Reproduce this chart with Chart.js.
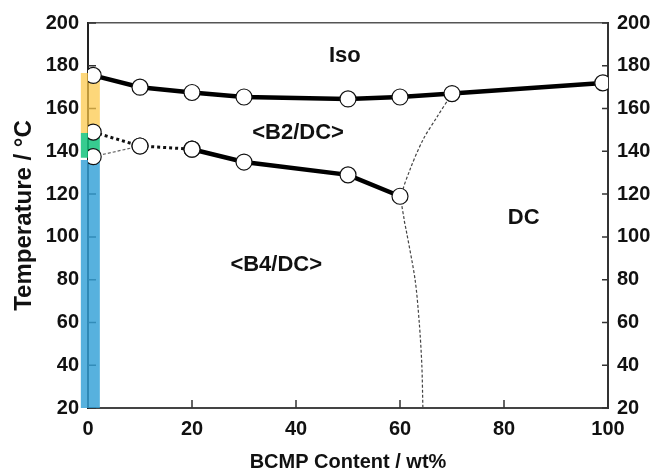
<!DOCTYPE html>
<html>
<head>
<meta charset="utf-8">
<script src="https://cdn.jsdelivr.net/npm/chart.js@4"></script>
<style>
  html, body { margin: 0; padding: 0; background: #fff; }
  #wrap { width: 654px; height: 472px; }
</style>
</head>
<body>
<div id="wrap"><canvas id="phaseChart"></canvas></div>
<script>
// Iso -> <B2/DC> boundary
const upperX = [1, 10, 20, 30, 50, 60, 70, 99];
const upperY = [175.5, 170, 167.5, 165.4, 164.5, 165.4, 167, 172];

// <B2/DC> -> <B4/DC> boundary (solid part)
const lowerX = [20, 30, 50, 60];
const lowerY = [141, 135, 129, 119];

// dotted part of the lower boundary
const dottedX = [1, 10, 20];
const dottedY = [149, 142.5, 141];

// thin dashed branch
const thinX = [1, 10];
const thinY = [137.5, 142.5];

// DC boundary (thin dashed curve)
const curveX = [70, 67.1, 64.4, 61.9, 60.3, 60.8, 61.2, 62.9, 63.7, 64.2, 64.4];
const curveY = [167, 156, 145.3, 131.3, 119, 108, 103, 80, 60, 40, 20];

// coloured bars at 0 wt%
const bandX = 0.45;
const bandBottom = [20, 137, 148.6];
const bandTop = [136, 148.6, 176.6];

// region labels
const regionText = ["Iso", "<B2/DC>", "<B4/DC>", "DC"];
const regionX = [49.4, 40.4, 36.2, 83.8];
const regionY = [184.6, 148.6, 86.9, 108.8];

const xTicks = [0, 20, 40, 60, 80, 100];
const yTicks = [20, 40, 60, 80, 100, 120, 140, 160, 180, 200];

const FONT = "'Liberation Sans', Arial, sans-serif";
const bandColors = ["rgba(50,160,215,0.82)", "rgba(20,195,125,0.85)", "rgba(252,200,70,0.72)"];

function pts(xs, ys) {
    return xs.map((x, i) => ({ x: x, y: ys[i] }));
}

const circle = {
    pointRadius: 8,
    pointHoverRadius: 8,
    pointBackgroundColor: "#fff",
    pointBorderColor: "#111",
    pointBorderWidth: 1.2
};

const datasets = [
    Object.assign({ data: pts(upperX, upperY), borderColor: "#000", borderWidth: 4.5 }, circle),
    Object.assign({ data: pts(lowerX, lowerY), borderColor: "#000", borderWidth: 4.5 }, circle),
    Object.assign({ data: pts(dottedX, dottedY), borderColor: "#111", borderWidth: 3, borderDash: [3, 3] }, circle),
    Object.assign({ data: pts(thinX, thinY), borderColor: "#666", borderWidth: 1.2, borderDash: [3, 2] }, circle),
    {
        data: pts(curveX, curveY),
        borderColor: "#444",
        borderWidth: 1.2,
        borderDash: [3, 2],
        tension: 0.3,
        pointRadius: 0
    }
];

// bands drawn first (last in list)
for (let i = bandBottom.length - 1; i >= 0; i--) {
    datasets.push({
        data: [{ x: bandX, y: bandBottom[i] }, { x: bandX, y: bandTop[i] }],
        borderColor: bandColors[i],
        borderWidth: 19,
        borderCapStyle: "butt",
        pointRadius: 0,
        clip: false
    });
}

// inward tick marks + region labels
const decorPlugin = {
    id: "decor",
    beforeDatasetsDraw(chart) {
        const ctx = chart.ctx;
        const sx = chart.scales.x, sy = chart.scales.y, sy2 = chart.scales.y2;
        const area = chart.chartArea;
        ctx.save();
        ctx.strokeStyle = "#333";
        ctx.lineWidth = 1.5;
        ctx.beginPath();
        xTicks.forEach(v => {
            const px = sx.getPixelForValue(v);
            ctx.moveTo(px, area.bottom);
            ctx.lineTo(px, area.bottom - 8);
        });
        yTicks.forEach(v => {
            const py = sy.getPixelForValue(v);
            ctx.moveTo(area.left, py);
            ctx.lineTo(area.left + 8, py);
            const py2 = sy2.getPixelForValue(v);
            ctx.moveTo(area.right, py2);
            ctx.lineTo(area.right - 6, py2);
        });
        ctx.stroke();
        ctx.restore();
    },
    afterDatasetsDraw(chart) {
        const ctx = chart.ctx;
        const sx = chart.scales.x, sy = chart.scales.y;
        ctx.save();
        ctx.fillStyle = "#111";
        ctx.font = "bold 22px " + FONT;
        ctx.textAlign = "center";
        ctx.textBaseline = "middle";
        regionText.forEach((t, i) => {
            ctx.fillText(t, sx.getPixelForValue(regionX[i]), sy.getPixelForValue(regionY[i]));
        });
        ctx.restore();
    }
};

const tickFont = { family: FONT, size: 20, weight: "bold" };

new Chart(document.getElementById("phaseChart"), {
    type: "line",
    data: { datasets: datasets },
    options: {
        responsive: true,
        maintainAspectRatio: false,
        animation: false,
        layout: { padding: 0 },
        plugins: {
            legend: { display: false },
            tooltip: { enabled: false }
        },
        scales: {
            x: {
                type: "linear",
                position: "bottom",
                min: 0,
                max: 100,
                afterBuildTicks: s => { s.ticks = xTicks.map(v => ({ value: v })); },
                grid: { display: false, drawTicks: false },
                border: { display: true, color: "#444", width: 2 },
                ticks: { color: "#111", font: tickFont, padding: 9, maxRotation: 0 },
                title: {
                    display: true,
                    text: "BCMP Content / wt%",
                    color: "#111",
                    font: { family: FONT, size: 20, weight: "bold", lineHeight: 1 },
                    padding: { top: 0, bottom: 0 }
                },
                afterFit: s => { s.height = 64; }
            },
            x2: {
                type: "linear",
                position: "top",
                min: 0,
                max: 100,
                grid: { display: false, drawTicks: false },
                border: { display: true, color: "#555", width: 1.5 },
                ticks: { display: false },
                afterFit: s => { s.height = 23; }
            },
            y: {
                type: "linear",
                position: "left",
                min: 20,
                max: 200,
                afterBuildTicks: s => { s.ticks = yTicks.map(v => ({ value: v })); },
                grid: { display: false, drawTicks: false },
                border: { display: true, color: "#222", width: 2 },
                ticks: { color: "#111", font: tickFont, padding: 9 },
                title: {
                    display: true,
                    text: "Temperature / °C",
                    color: "#111",
                    font: { family: FONT, size: 24, weight: "bold", lineHeight: 1 },
                    padding: { top: 12, bottom: 0 }
                },
                afterFit: s => { s.width = 88; }
            },
            y2: {
                type: "linear",
                position: "right",
                min: 20,
                max: 200,
                afterBuildTicks: s => { s.ticks = yTicks.map(v => ({ value: v })); },
                grid: { display: false, drawTicks: false },
                border: { display: true, color: "#333", width: 2 },
                ticks: { color: "#111", font: tickFont, padding: 9 },
                afterFit: s => { s.width = 46; }
            }
        }
    },
    plugins: [decorPlugin]
});
</script>
</body>
</html>
